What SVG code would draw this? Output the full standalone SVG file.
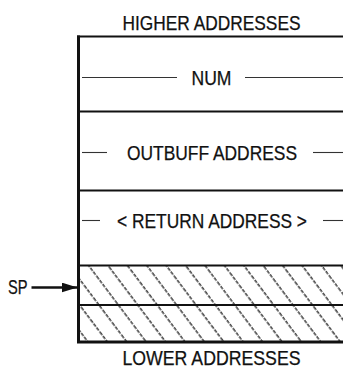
<svg xmlns="http://www.w3.org/2000/svg" width="343" height="368" viewBox="0 0 343 368">
  <style>
    .lbl { font-family: "Liberation Sans", Arial, Helvetica, sans-serif; font-size: 19.5px; fill: #111; stroke: #111; stroke-width: 0.25; }
    .edge { stroke: #111; fill: none; }
    .rule { stroke: #111; stroke-width: 2.2; fill: none; }
    .dash { stroke: #333; stroke-width: 1.1; fill: none; }
  </style>
  <defs>
    <!-- diagonal hatching for the used stack slots -->
    <pattern id="hatch" patternUnits="userSpaceOnUse" width="15.5" height="15.5" patternTransform="rotate(-37)">
      <line x1="4" y1="0" x2="4" y2="15.5" stroke="#1a1a1a" stroke-width="1.3" stroke-dasharray="3.6 1.3"/>
    </pattern>
    <marker id="arrow" markerUnits="userSpaceOnUse" markerWidth="16" markerHeight="10" refX="16" refY="5" orient="auto">
      <path d="M0,0 L16,5 L0,10 Z" fill="#111"/>
    </marker>
  </defs>

  <!-- stack frame -->
  <g id="frame">
    <rect x="78" y="266" width="270" height="76" fill="url(#hatch)"/>
    <line class="rule" x1="77" y1="36.5" x2="343" y2="36.5"/>
    <line class="rule" x1="77" y1="111.5" x2="343" y2="111.5"/>
    <line class="rule" x1="77" y1="190.5" x2="343" y2="190.5"/>
    <line class="rule" x1="77" y1="265.5" x2="343" y2="265.5"/>
    <line class="rule" x1="77" y1="305" x2="343" y2="305"/>
    <path class="edge" stroke-width="3" d="M78.5,35.5 V342 H343"/>
  </g>

  <g id="label-higher">
    <text class="lbl" x="122.5" y="30" textLength="178" lengthAdjust="spacingAndGlyphs">HIGHER ADDRESSES</text>
  </g>

  <g id="slot-num">
    <line class="dash" x1="82" y1="77.5" x2="177" y2="77.5"/>
    <text class="lbl" x="191.5" y="84.5" textLength="40" lengthAdjust="spacingAndGlyphs">NUM</text>
    <line class="dash" x1="245" y1="77.5" x2="343" y2="77.5"/>
  </g>

  <g id="slot-outbuff">
    <line class="dash" x1="82" y1="152.5" x2="107" y2="152.5"/>
    <text class="lbl" x="127" y="159.5" textLength="170" lengthAdjust="spacingAndGlyphs">OUTBUFF ADDRESS</text>
    <line class="dash" x1="313" y1="152.5" x2="343" y2="152.5"/>
  </g>

  <g id="slot-return">
    <line class="dash" x1="82" y1="220.5" x2="100" y2="220.5"/>
    <text class="lbl" x="117" y="227.5" textLength="190" lengthAdjust="spacingAndGlyphs">&lt; RETURN ADDRESS &gt;</text>
    <line class="dash" x1="323" y1="220.5" x2="343" y2="220.5"/>
  </g>

  <g id="label-sp">
    <text class="lbl" x="8" y="293.5" textLength="19.5" lengthAdjust="spacingAndGlyphs">SP</text>
  </g>

  <g id="label-lower">
    <text class="lbl" x="122.5" y="364.5" textLength="178" lengthAdjust="spacingAndGlyphs">LOWER ADDRESSES</text>
  </g>

  <g id="connectors">
    <line stroke="#111" stroke-width="2.5" x1="31.5" y1="287.5" x2="77.5" y2="287.5" marker-end="url(#arrow)"/>
  </g>
</svg>
